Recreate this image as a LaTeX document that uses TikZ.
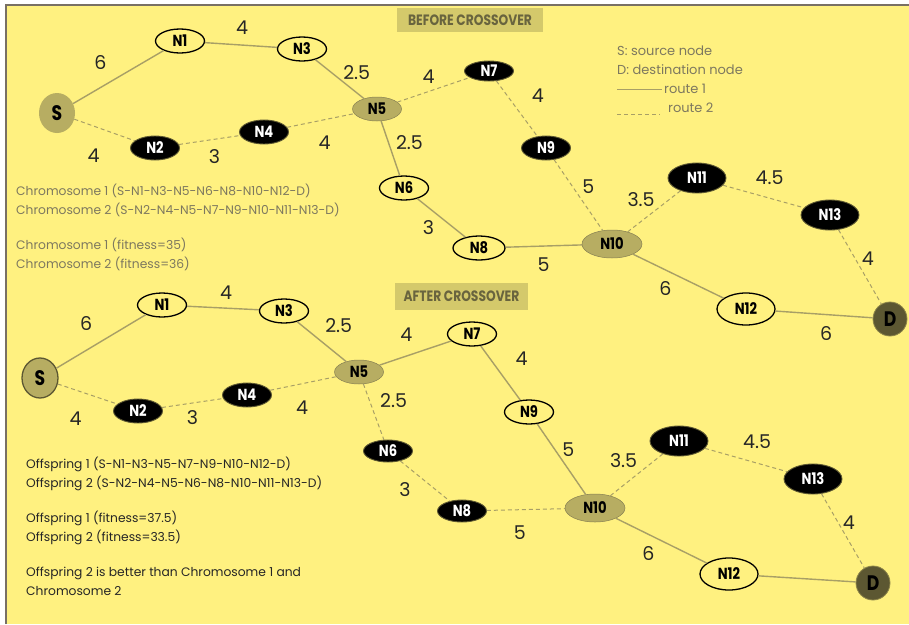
\documentclass[tikz,border=0pt]{standalone}
\usepackage{fontspec}
\setmainfont{Poppins}
\newfontfamily\labelfont{Poppins}[FakeStretch=0.82]
\usetikzlibrary{shapes.geometric}
\definecolor{myYellow}{RGB}{255, 241, 128}
\definecolor{myOlive}{RGB}{183, 173, 98}
\definecolor{myDarkOlive}{RGB}{92, 87, 50}
\definecolor{myLine}{RGB}{168, 159, 102}
\definecolor{myBox}{RGB}{212, 201, 107}
\definecolor{myBoxText}{RGB}{105, 100, 62}
\definecolor{myGrey}{RGB}{125, 120, 95}
\definecolor{myFrame}{RGB}{120, 112, 100}

\tikzset{
  opennode/.style={draw, ellipse, line width=1.3pt, fill=myYellow, minimum width=49pt, minimum height=24pt, inner sep=0pt, font=\labelfont\bfseries\fontsize{16}{16}\selectfont},
  blacknode/.style={opennode, draw=myDarkOlive, line width=0.9pt, fill=black, text=white},
  hubnode/.style={opennode, draw=myLine!80!black, line width=0.5pt, fill=myOlive},
  srcnode/.style={ellipse, fill=myOlive, minimum width=36pt, minimum height=40pt, inner sep=0pt, font=\labelfont\bfseries\fontsize{21}{21}\selectfont},
  dstnode/.style={circle, fill=myDarkOlive, draw=myDarkOlive!70!myYellow, line width=0.8pt, minimum size=34pt, inner sep=0pt, font=\labelfont\bfseries\fontsize{21}{21}\selectfont},
  route1/.style={draw=myLine, line width=1.4pt},
  route2/.style={draw=myLine, line width=1pt, dash pattern=on 4pt off 3pt},
  wlabel/.style={inner sep=0pt, text=black!85, font=\fontsize{19}{19}\selectfont},
  titlebox/.style={fill=myBox, text=myBoxText, minimum width=146pt, minimum height=24pt, inner sep=0pt, font=\labelfont\bfseries\fontsize{15}{15}\selectfont},
  legendtext/.style={inner sep=2pt, text=myGrey, font=\fontsize{13}{13}\selectfont},
  blocktext/.style={inner sep=0pt, align=left, font=\fontsize{12.3}{19}\selectfont}
}

\begin{document}
\begin{tikzpicture}[x=1pt, y=-1pt]
\useasboundingbox (0,0) rectangle (909,624);
\fill[white] (0,0) rectangle (909,624);
\fill[myYellow] (5,5) rectangle (909,624);
\draw[myFrame, line width=1.5pt] (5.75,624) -- (5.75,4.75) -- (909,4.75);

% headings
\draw (470,20) node[titlebox] (before) {BEFORE CROSSOVER};
\draw (461.5,296.5) node[titlebox, minimum width=133pt, minimum height=27pt] (after) {AFTER CROSSOVER};

% legend
\draw (617,51) node[legendtext, anchor=west, inner sep=0pt] (src) {S: source node};
\draw (617,70) node[legendtext, anchor=west, inner sep=0pt] (dst) {D: destination node};
\draw (662,89) node[legendtext, anchor=west] (legA) {route 1};
\draw (666,108) node[legendtext, anchor=west] (legB) {route 2};
\coordinate (r1) at (617,89);
\coordinate (r2) at (617,114);
\coordinate (r2e) at (660,114);
\draw[route1, line width=1pt] (r1) -- (legA.west);
\draw[route2] (r2) -- (r2e);

% chromosomes
\draw (57,113) node[srcnode] (S) {S};
\draw (180,41) node[opennode] (N1) {N1};
\draw (302,49) node[opennode] (N3) {N3};
\draw (377,109) node[hubnode] (N5) {N5};
\draw (155,148) node[blacknode] (N2) {N2};
\draw (264,132) node[blacknode] (N4) {N4};
\draw (404,188) node[opennode] (N6) {N6};
\draw (489,71) node[blacknode, minimum height=20pt] (N7) {N7};
\draw (546,148) node[blacknode] (N9) {N9};
\draw (479,248) node[opennode, minimum width=52pt] (N8) {N8};
\draw (612,244) node[hubnode, minimum width=60pt, minimum height=28pt] (N10) {N10};
\draw (697,178) node[blacknode, minimum width=58pt, minimum height=30pt] (N11) {N11};
\draw (830,215) node[blacknode, minimum width=58pt, minimum height=30pt] (N13) {N13};
\draw (746,309) node[opennode, minimum width=58pt, minimum height=32pt] (N12) {N12};
\draw (890,319) node[dstnode] (D) {D};

\path
(S) edge[route1] node[wlabel, xshift=-18pt, yshift=15pt] {6} (N1)
(N1) edge[route1] node[wlabel, xshift=1pt, yshift=17pt] {4} (N3)
(N3) edge[route1] node[wlabel, xshift=17pt, yshift=7pt] {2.5} (N5)
(N5) edge[route1] node[wlabel, xshift=19pt, yshift=6pt] {2.5} (N6)
(N6) edge[route1] node[wlabel, xshift=-13pt, yshift=-10pt] {3} (N8)
(N8) edge[route1] node[wlabel, yshift=-19pt] {5} (N10)
(N10) edge[route1] node[wlabel, xshift=-13pt, yshift=-12pt] {6} (N12)
(N12) edge[route1] node[wlabel, xshift=2pt, yshift=-19pt] {6} (D)
(S) edge[route2] node[wlabel, xshift=-11pt, yshift=-26pt] {4} (N2)
(N2) edge[route2] node[wlabel, xshift=5pt, yshift=-17pt] {3} (N4)
(N4) edge[route2] node[wlabel, xshift=4pt, yshift=-22pt] {4} (N5)
(N5) edge[route2] node[wlabel, xshift=-5pt, yshift=13pt] {4} (N7)
(N7) edge[route2] node[wlabel, xshift=21pt, yshift=13pt] {4} (N9)
(N9) edge[route2] node[wlabel, xshift=10pt, yshift=8pt] {5} (N10)
(N10) edge[route2] node[wlabel, xshift=-13pt, yshift=12pt] {3.5} (N11)
(N11) edge[route2] node[wlabel, xshift=6pt, yshift=19pt] {4.5} (N13)
(N13) edge[route2] node[wlabel, xshift=8pt, yshift=8pt] {4} (D)
;

\draw (16,183.5) node[blocktext, text=myGrey, anchor=north west] (chrom) {Chromosome 1 (S-N1-N3-N5-N6-N8-N10-N12-D)\\Chromosome 2 (S-N2-N4-N5-N7-N9-N10-N11-N13-D)\\[16pt]Chromosome 1 (fitness=35)\\Chromosome 2 (fitness=36)};

% offspring
\draw (40,378) node[srcnode, draw=myDarkOlive, line width=1.3pt] (oS) {S};
\draw (162,305) node[opennode] (oN1) {N1};
\draw (284,311) node[opennode] (oN3) {N3};
\draw (359,372) node[hubnode] (oN5) {N5};
\draw (138,411) node[blacknode] (oN2) {N2};
\draw (247,395) node[blacknode] (oN4) {N4};
\draw (388,451) node[blacknode, minimum height=22pt] (oN6) {N6};
\draw (472,334) node[opennode] (oN7) {N7};
\draw (529,412) node[opennode] (oN9) {N9};
\draw (462,511) node[blacknode, minimum height=22pt] (oN8) {N8};
\draw (595,508) node[hubnode, minimum width=60pt, minimum height=28pt] (oN10) {N10};
\draw (679,441) node[blacknode, minimum width=58pt, minimum height=30pt] (oN11) {N11};
\draw (813,479) node[blacknode, minimum width=58pt, minimum height=30pt] (oN13) {N13};
\draw (729,574) node[opennode, minimum width=58pt, minimum height=32pt] (oN12) {N12};
\draw (873,583) node[dstnode] (oD) {D};

\path
(oS) edge[route1] node[wlabel, xshift=-15pt, yshift=18pt] {6} (oN1)
(oN1) edge[route1] node[wlabel, xshift=3pt, yshift=15pt] {4} (oN3)
(oN3) edge[route1] node[wlabel, xshift=17pt, yshift=16pt] {2.5} (oN5)
(oN5) edge[route1] node[wlabel, xshift=-9pt, yshift=18pt] {4} (oN7)
(oN7) edge[route1] node[wlabel, xshift=21pt, yshift=14pt] {4} (oN9)
(oN9) edge[route1] node[wlabel, xshift=7pt, yshift=10pt] {5} (oN10)
(oN10) edge[route1] node[wlabel, xshift=-13pt, yshift=-13pt] {6} (oN12)
(oN12) edge[route1] (oD)
(oS) edge[route2] node[wlabel, xshift=-12pt, yshift=-25pt] {4} (oN2)
(oN2) edge[route2] node[wlabel, yshift=-15pt] {3} (oN4)
(oN4) edge[route2] node[wlabel, xshift=-1pt, yshift=-24pt] {4} (oN5)
(oN5) edge[route2] node[wlabel, xshift=20pt, yshift=11pt] {2.5} (oN6)
(oN6) edge[route2] node[wlabel, xshift=-20pt, yshift=-9pt] {3} (oN8)
(oN8) edge[route2] node[wlabel, xshift=-6pt, yshift=-23pt] {5} (oN10)
(oN10) edge[route2] node[wlabel, xshift=-13pt, yshift=14pt] {3.5} (oN11)
(oN11) edge[route2] node[wlabel, xshift=11pt, yshift=18pt] {4.5} (oN13)
(oN13) edge[route2] node[wlabel, xshift=6pt, yshift=8pt] {4} (oD)
;

\draw (26,456.5) node[blocktext, text=black!85, anchor=north west] (offs) {Offspring 1 (S-N1-N3-N5-N7-N9-N10-N12-D)\\Offspring 2 (S-N2-N4-N5-N6-N8-N10-N11-N13-D)\\[16pt]Offspring 1 (fitness=37.5)\\Offspring 2 (fitness=33.5)\\[16pt]Offspring 2 is better than Chromosome 1 and\\Chromosome 2};
\end{tikzpicture}
\end{document}
